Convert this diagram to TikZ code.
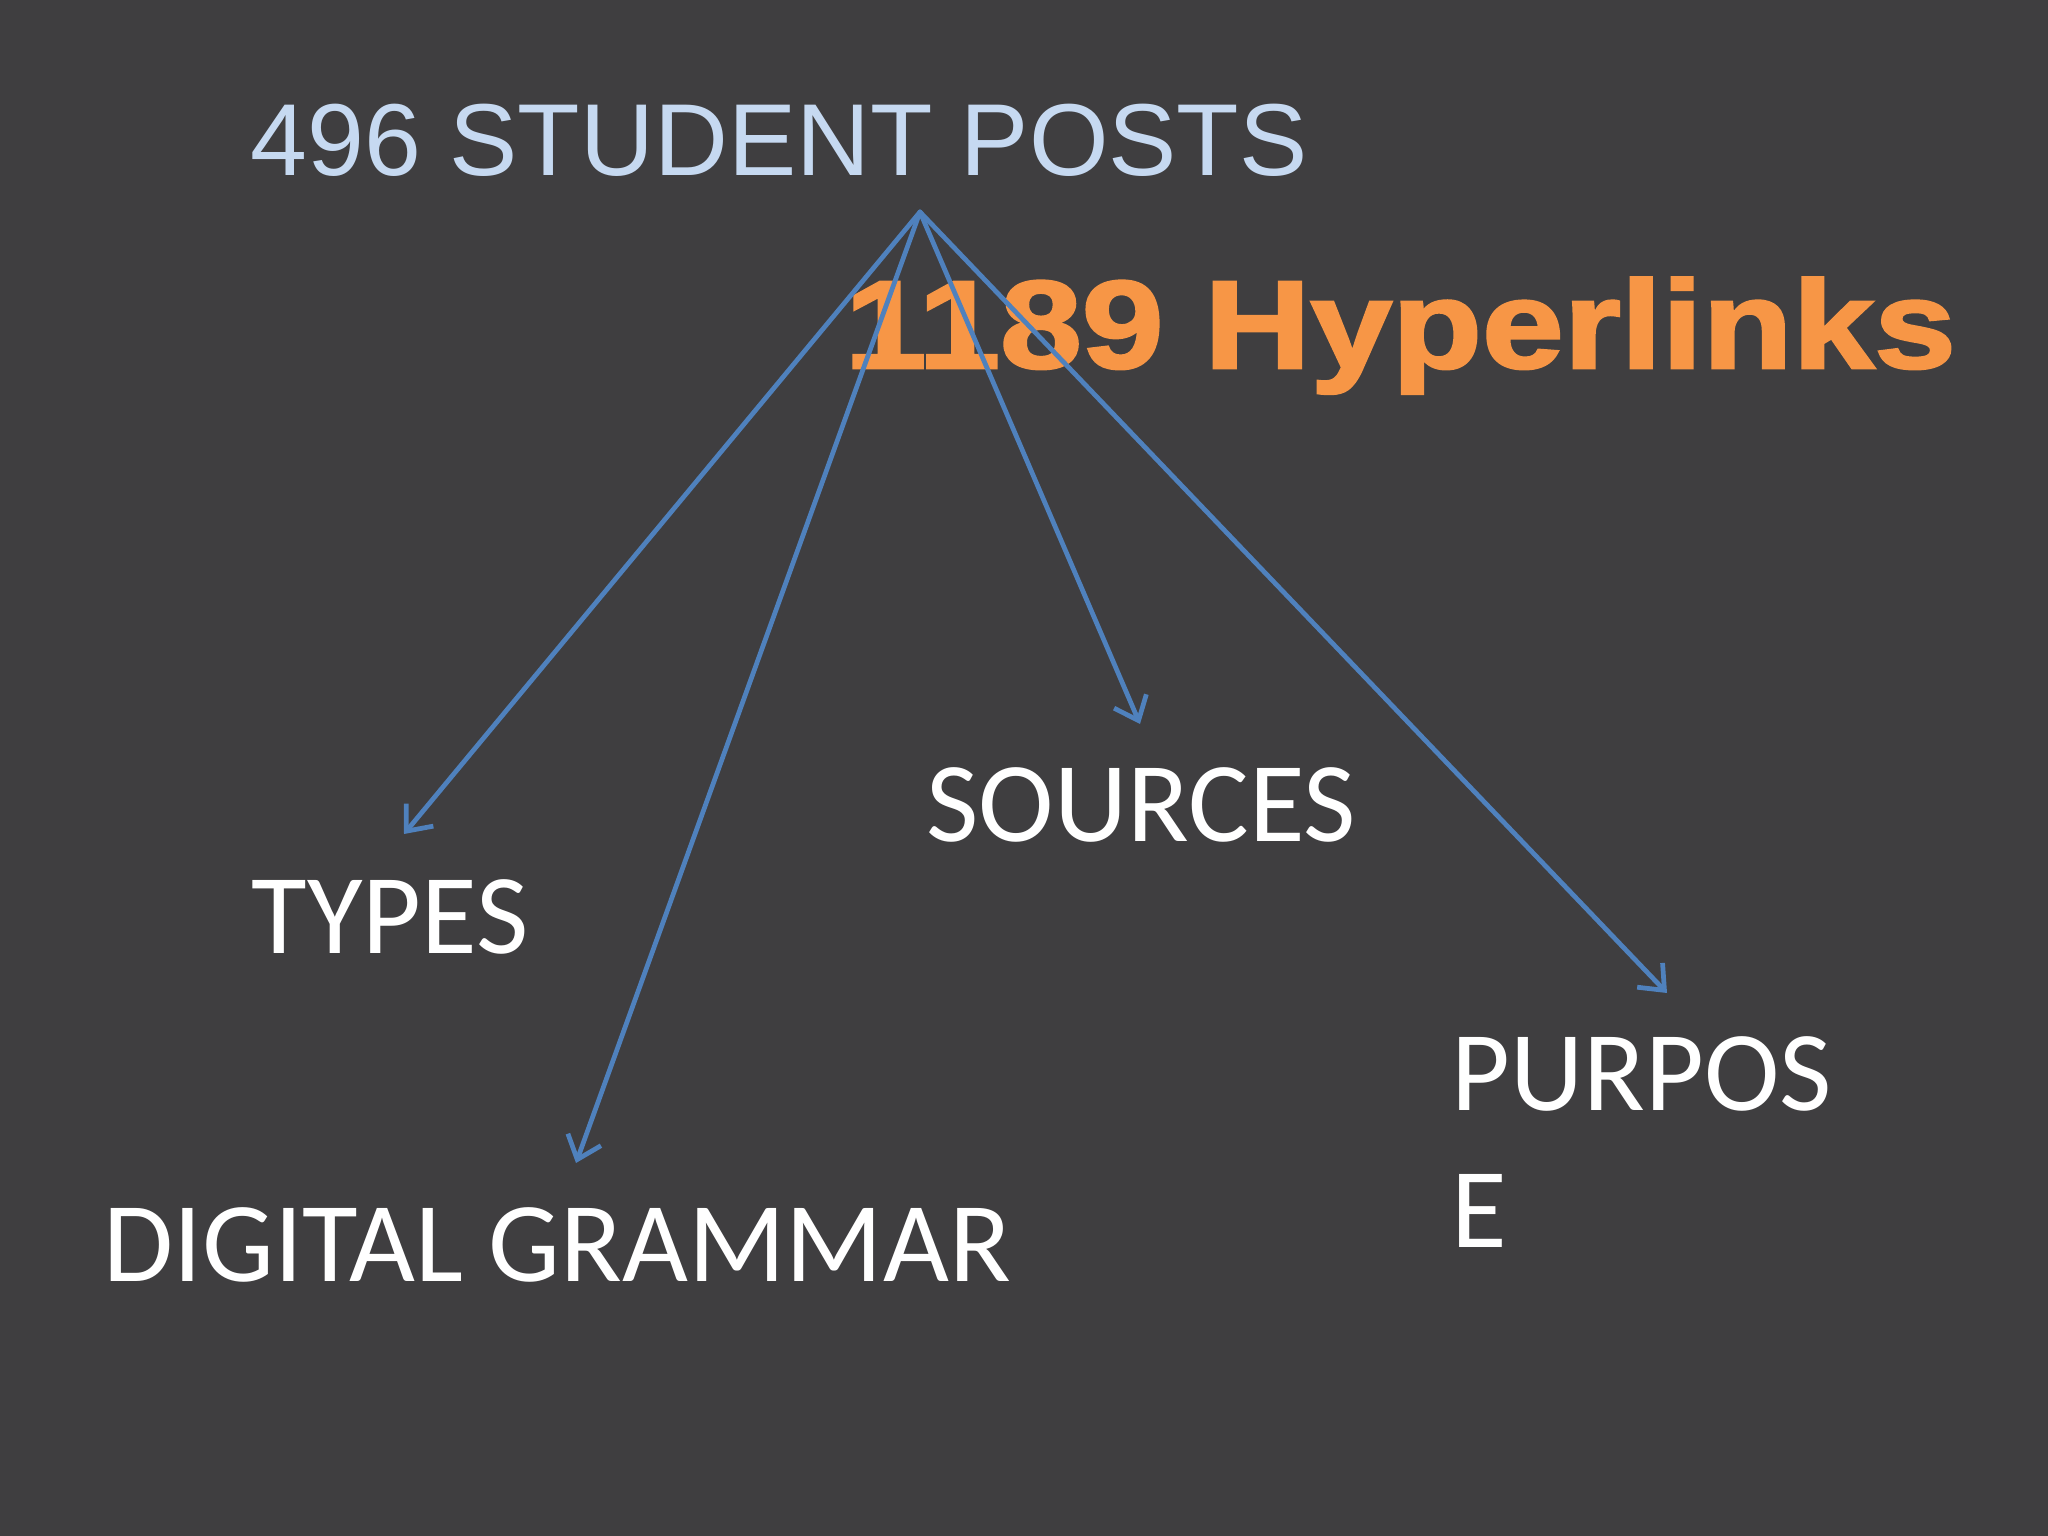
\documentclass[tikz,border=0pt]{standalone}
\usepackage{fontspec}
\setmainfont{Carlito}
\newfontfamily\arialfont{Liberation Sans}
\newfontfamily\arialboldfont[FakeBold=2]{Liberation Sans Bold}
\usetikzlibrary{arrows.meta}
\definecolor{bg}{RGB}{63,62,64}
\definecolor{linkblue}{RGB}{79,129,189}
\definecolor{titleblue}{RGB}{198,217,241}
\definecolor{orangetxt}{RGB}{247,150,70}
\tikzset{
  whitelabel/.style={anchor=base west, inner sep=0pt, text=white, font=\fontsize{32.4}{38.7}\selectfont, align=left},
  link/.style={draw=linkblue, line width=1.35pt, line cap=round, line join=round, -{Straight Barb[length=6pt,width=10pt,line width=1.35pt]}}
}
\begin{document}
\begin{tikzpicture}
\fill[bg] (0,0) rectangle (20.48,-15.36);
\useasboundingbox (0,0) rectangle (20.48,-15.36);
\node[anchor=base west, inner sep=0pt, text=titleblue, font=\arialfont\fontsize{29.1}{35}\selectfont] (title) at (2.50,-1.76) {496 STUDENT POSTS};
\node[anchor=base west, inner sep=0pt, text=orangetxt, font=\arialboldfont\fontsize{35.6}{42}\selectfont] (links) at (8.44,-3.68) {\scalebox{1.175}[1]{1189 Hyperlinks}};
\node[whitelabel] (types) at (2.51,-9.53) {TYPES};
\node[whitelabel] (sources) at (9.26,-8.42) {SOURCES};
\node[whitelabel] (grammar) at (1.03,-12.81) {DIGITAL GRAMMAR};
\node[whitelabel] (purpose) at (14.51,-12.47) {PURPOS\\E};
\coordinate (hub) at (9.20,-2.12);
\coordinate (ttypes) at (4.04,-8.34);
\coordinate (tgrammar) at (5.76,-11.63);
\coordinate (tsources) at (11.40,-7.24);
\coordinate (tpurpose) at (16.67,-9.93);
\draw[link] (hub) -- (ttypes);
\draw[link] (hub) -- (tgrammar);
\draw[link] (hub) -- (tsources);
\draw[link] (hub) -- (tpurpose);
\end{tikzpicture}
\end{document}
